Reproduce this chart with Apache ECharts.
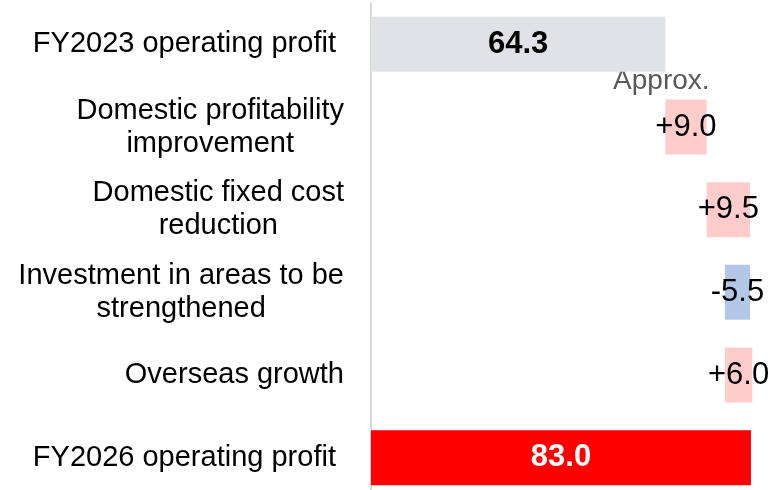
<!DOCTYPE html>
<html>
<head>
<meta charset="utf-8">
<script src="https://cdn.jsdelivr.net/npm/echarts@6/dist/echarts.min.js"></script>
<style>
  html, body { margin: 0; padding: 0; background: #fff; }
  #chart { width: 782px; height: 490px; }
</style>
</head>
<body>
<div id="chart"></div>
<script>
// categories, top to bottom
const categories = [
  'FY2023 operating profit ',
  'Domestic profitability\nimprovement',
  'Domestic fixed cost\nreduction',
  'Investment in areas to be\nstrengthened',
  'Overseas growth',
  'FY2026 operating profit '
]
const startValue = 64.3
const changes = [9.0, 9.5, -5.5, 6.0]
const endValue = 83.0

const FONT = 'Liberation Sans, Arial, sans-serif'

// build waterfall: invisible base + visible length
const base = [0]
const length = [startValue]
const labels = [startValue.toFixed(1)]
const colors = ['#dfe3e8']
let running = startValue
changes.forEach(c => {
  if (c >= 0) {
    base.push(running)
    length.push(c)
    colors.push('#ffcccc')
  } else {
    base.push(running + c)
    length.push(-c)
    colors.push('#b4c7e7')
  }
  running += c
  labels.push((c >= 0 ? '+' : '-') + Math.abs(c).toFixed(1))
})
base.push(0)
length.push(endValue)
labels.push(endValue.toFixed(1))
colors.push('#ff0000')

const chart = echarts.init(document.getElementById('chart'))
chart.setOption({
  animation: false,
  grid: { left: 371, top: 3, right: -1, bottom: -9, outerBoundsMode: 'none', containLabel: false },
  xAxis: { type: 'value', min: 0, max: 90, show: false },
  yAxis: {
    type: 'category',
    inverse: true,
    data: categories,
    axisTick: { show: false },
    axisLine: { lineStyle: { color: '#d9d9d9', width: 2 } },
    axisLabel: {
      margin: 27,
      align: 'right',
      formatter: v => v.split('\n').map(l => '{c|' + l + '}').join('\n'),
      rich: {
        c: { align: 'center', fontSize: 29, lineHeight: 33, color: '#000', fontFamily: FONT }
      }
    }
  },
  series: [
    {
      type: 'bar',
      stack: 'w',
      barWidth: 55,
      itemStyle: { color: 'transparent' },
      data: base,
      silent: true
    },
    {
      type: 'bar',
      stack: 'w',
      barWidth: 55,
      data: length.map((v, i) => {
        const total = i === 0 || i === length.length - 1
        return {
          value: v,
          itemStyle: { color: colors[i] },
          label: {
            color: i === length.length - 1 ? '#fff' : '#000',
            fontWeight: total ? 'bold' : 'normal'
          }
        }
      }),
      label: {
        show: true,
        position: 'inside',
        fontSize: 31,
        fontFamily: FONT,
        formatter: p => labels[p.dataIndex]
      }
    }
  ]
})

// "Approx." note above the first change bar
const end1 = startValue + changes[0]
const pt = chart.convertToPixel({ gridIndex: 0 }, [end1, 1])
chart.setOption({
  graphic: [{
    type: 'text',
    x: pt[0] + 3,
    y: pt[1] - 46,
    style: {
      text: 'Approx.',
      fontSize: 28,
      fontFamily: FONT,
      fill: '#595959',
      textAlign: 'right',
      textVerticalAlign: 'middle'
    }
  }]
})
</script>
</body>
</html>
